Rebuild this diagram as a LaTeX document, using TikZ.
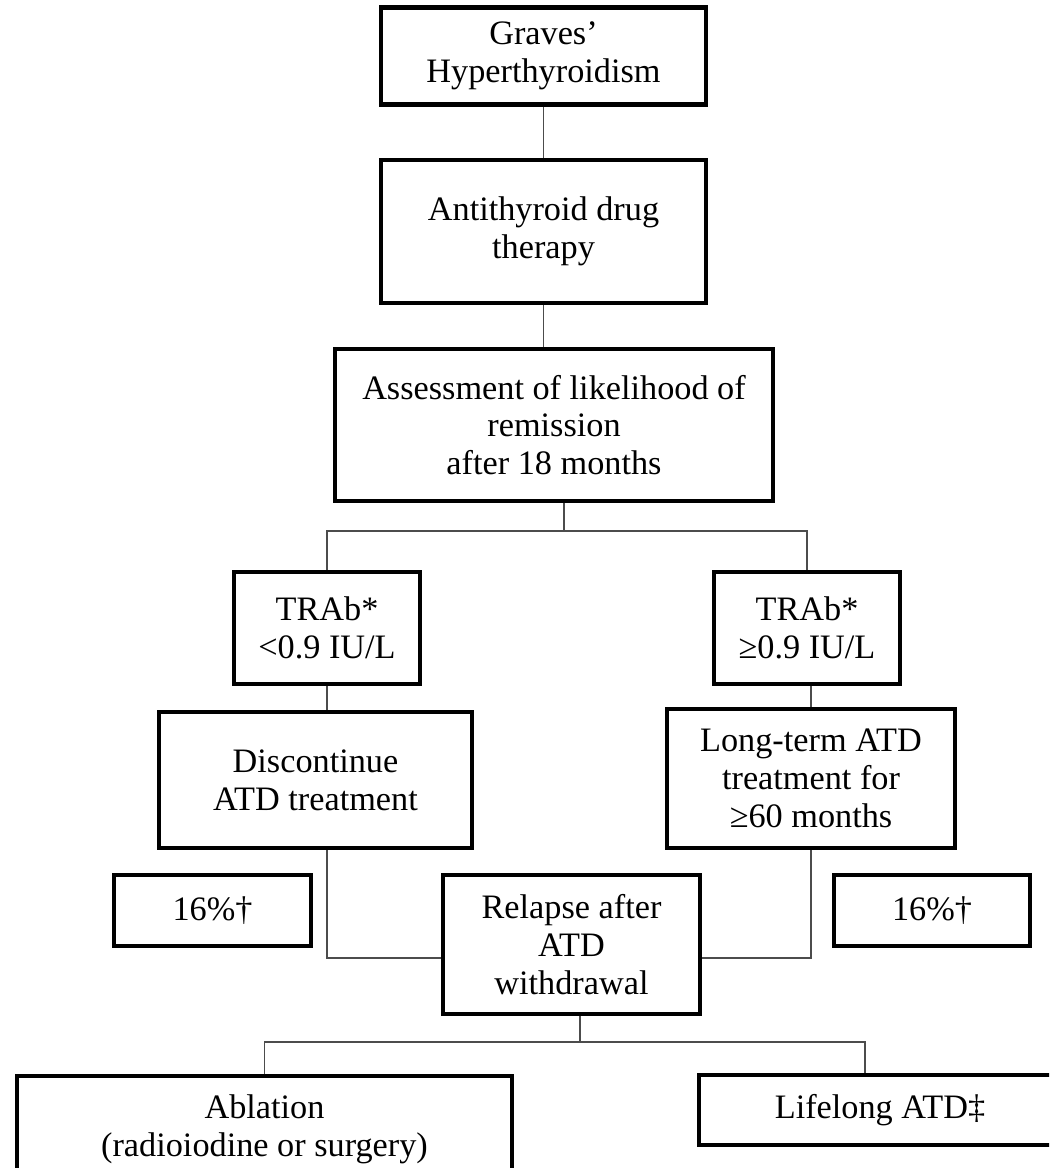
\documentclass[tikz,border=0pt]{standalone}
\usepackage{fontspec}
\setmainfont{Liberation Serif}

\begin{document}
\begin{tikzpicture}[x=0.02cm, y=-0.02cm,
  blk/.style={draw, line width=2.6pt, align=center, inner sep=0pt,
              font=\fontsize{19.5}{21.5}\selectfont},
  conn/.style={draw=black!70, line width=0.9pt}]
  \useasboundingbox (0,0) rectangle (1049,1168);
  \clip (0,0) rectangle (1049,1168);

  \node[blk, minimum width=6.5cm, minimum height=1.94cm] (graves) at (543.5,56)
        {Graves’\\Hyperthyroidism};
  \node[blk, minimum width=6.5cm, minimum height=2.86cm] (atd) at (543.5,231.5)
        {Antithyroid drug\\therapy};
  \node[blk, minimum width=8.76cm, minimum height=3.04cm] (assess) at (554,425)
        {Assessment of likelihood of\\remission\\after 18 months};

  \node[blk, minimum width=3.72cm, minimum height=2.24cm] (trabL) at (327,628)
        {TRAb*\\<0.9 IU/L};
  \node[blk, minimum width=3.72cm, minimum height=2.24cm] (trabR) at (807,628)
        {TRAb*\\≥0.9 IU/L};
  \node[blk, minimum width=6.26cm, minimum height=2.72cm] (disc) at (315.5,780)
        {Discontinue\\ATD treatment};
  \node[blk, minimum width=5.76cm, minimum height=2.78cm] (longterm) at (811,778.5)
        {Long-term ATD\\treatment for\\≥60 months};

  \node[blk, minimum width=3.94cm, minimum height=1.42cm] (pctL) at (212.5,910.5)
        {16\%†};
  \node[blk, minimum width=5.14cm, minimum height=2.78cm] (relapse) at (571.5,944.5)
        {Relapse after\\ATD\\withdrawal};
  \node[blk, minimum width=3.92cm, minimum height=1.42cm] (pctR) at (932,910.5)
        {16\%†};

  \node[blk, minimum width=9.9cm, minimum height=2.12cm] (ablation) at (264.5,1129)
        {Ablation\\(radioiodine or surgery)};
  \node[blk, minimum width=7.24cm, minimum height=1.4cm] (lifelong) at (880,1110)
        {Lifelong ATD‡};

  \coordinate (split1) at (564,531);
  \coordinate (merge) at (571,958);
  \coordinate (split2) at (580,1042);

  \draw[conn] (graves.south) -- (graves.south |- atd.north);
  \draw[conn] (atd.south) -- (atd.south |- assess.north);
  \draw[conn] (assess.south -| split1) -- (split1);
  \draw[conn] (split1) -| (trabL.north);
  \draw[conn] (split1) -| (trabR.north);
  \draw[conn] (trabL.south) -- (trabL.south |- disc.north);
  \draw[conn] (longterm.north) -- (longterm.north |- trabR.south);
  \draw[conn] (trabL.south |- disc.south) |- (merge -| relapse.west);
  \draw[conn] (longterm.south) |- (merge -| relapse.east);
  \draw[conn] (relapse.south -| split2) -- (split2);
  \draw[conn] (split2) -| (ablation.north);
  \draw[conn] (split2) -| ([xshift=-0.3cm]lifelong.north);
\end{tikzpicture}
\end{document}
